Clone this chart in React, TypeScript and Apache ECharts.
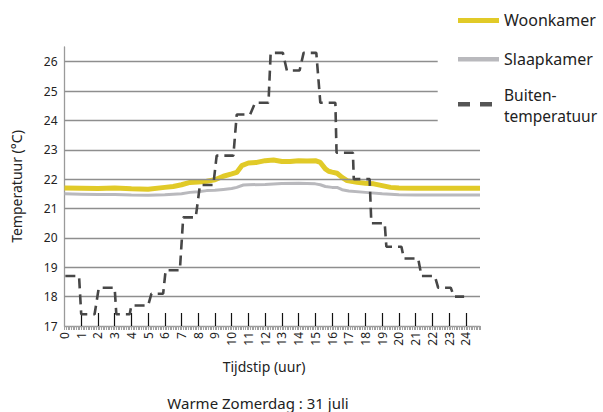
import React, { useEffect, useRef } from "react";
import * as echarts from "echarts";

// Buitentemperatuur: plateau per uur (start, eind, waarde)
const buitenValues = [18.7, 17.4, 18.3, 17.4, 17.7, 18.1, 18.9, 20.7, 21.8, 22.8, 24.2, 24.6, 26.3, 25.7, 26.3, 24.6, 22.9, 22.0, 20.5, 19.7, 19.3, 18.7, 18.3, 18.0];
const buitenStart = [0.05, 1.0, 2.05, 3.1, 4.0, 5.2, 6.05, 7.1, 8.1, 9.1, 10.3, 11.4, 12.33, 13.3, 14.3, 15.3, 16.27, 17.3, 18.35, 19.25, 20.3, 21.35, 22.35, 23.3];
const buitenEnd = [0.87, 1.8, 3.0, 3.9, 5.0, 5.9, 6.9, 7.85, 8.9, 10.1, 11.1, 12.2, 13.06, 14.06, 15.06, 16.2, 17.25, 18.25, 19.15, 20.15, 21.15, 22.15, 23.1, 23.9];

// Woonkamer
const woonT = [0, 1, 2, 3, 4, 5, 6, 6.5, 7, 7.5, 8, 8.5, 9, 9.5, 10, 10.3, 10.6, 11, 11.5, 12, 12.5, 13, 13.5, 14, 14.5, 15, 15.3, 15.6, 15.8, 16, 16.3, 16.6, 16.9, 17.5, 18, 18.5, 19, 19.5, 20, 21, 22, 23, 24, 24.85];
const woonV = [21.7, 21.69, 21.68, 21.7, 21.67, 21.66, 21.72, 21.75, 21.81, 21.89, 21.9, 21.93, 21.98, 22.1, 22.18, 22.23, 22.46, 22.55, 22.57, 22.63, 22.65, 22.6, 22.6, 22.63, 22.62, 22.63, 22.57, 22.35, 22.27, 22.24, 22.2, 22.06, 21.95, 21.89, 21.86, 21.84, 21.78, 21.72, 21.7, 21.69, 21.69, 21.69, 21.69, 21.69];

// Slaapkamer
const slaapT = [0, 1, 2, 3, 4, 5, 6, 7, 7.5, 8, 8.5, 9, 9.5, 10, 10.3, 10.7, 11, 12, 13, 14, 15, 15.3, 15.6, 16, 16.3, 16.6, 17, 18, 19, 20, 21, 22, 23, 24, 24.85];
const slaapV = [21.5, 21.49, 21.48, 21.48, 21.46, 21.45, 21.47, 21.5, 21.55, 21.57, 21.61, 21.62, 21.65, 21.68, 21.72, 21.8, 21.81, 21.82, 21.85, 21.86, 21.84, 21.81, 21.75, 21.72, 21.72, 21.64, 21.6, 21.55, 21.5, 21.47, 21.46, 21.46, 21.46, 21.46, 21.46];

const hourLabels = Array.from({ length: 25 }, (_, i) => i);
const hourTicks = hourLabels.slice(1);
const yTicks = [17, 18, 19, 20, 21, 22, 23, 24, 25, 26];
const gridFull = [18, 19, 20, 21, 22, 23];
const gridShort = [24, 25, 26];

const X_MAX = 24.85;
const X_SHORT = 22.32;
const FONT = "Noto Sans";

export default function App() {
  const ref = useRef<HTMLDivElement>(null);
  useEffect(() => {
    if (!ref.current) return;
    const chart = echarts.init(ref.current, undefined, { renderer: "svg" });

    const buitenData: number[][] = [];
    buitenValues.forEach((v, i) => {
      buitenData.push([buitenStart[i], v]);
      buitenData.push([buitenEnd[i], v]);
    });
    const woonData = woonT.map((t, i) => [t, woonV[i]]);
    const slaapData = slaapT.map((t, i) => [t, slaapV[i]]);

    const gridLines = [
      ...gridFull.map((v) => [{ coord: [0, v] }, { coord: [X_MAX, v] }]),
      ...gridShort.map((v) => [{ coord: [0, v] }, { coord: [X_SHORT, v] }]),
    ];

    const legendText = (text: string, y: number, size = 16) => ({
      type: "text",
      x: 504,
      y,
      style: { text, fontSize: size, fill: "#222", fontFamily: FONT, align: "left", verticalAlign: "middle" },
    });

    const option: any = {
      animation: false,
      textStyle: { fontFamily: FONT },
      grid: { left: 64.5, right: 123, top: 47, bottom: 86, containLabel: false },
      xAxis: [
        {
          type: "value",
          min: 0,
          max: X_MAX,
          interval: 1,
          axisLine: { show: true, lineStyle: { color: "#9a9a9a", width: 1.3 } },
          axisTick: {
            show: true,
            inside: true,
            length: 13,
            customValues: hourTicks,
            lineStyle: { color: "#111", width: 1.2 },
          },
          axisLabel: {
            rotate: 90,
            customValues: hourLabels,
            fontSize: 12,
            color: "#222",
            margin: 6,
            fontFamily: FONT,
          },
          splitLine: { show: false },
        },
        {
          type: "value",
          min: 0,
          max: X_MAX,
          interval: 0.1,
          position: "bottom",
          axisLine: { show: false },
          axisTick: { show: true, length: 4, lineStyle: { color: "#a0a0a0", width: 1 } },
          axisLabel: { show: false },
          splitLine: { show: false },
        },
      ],
      yAxis: {
        type: "value",
        min: 17,
        max: 26.5,
        interval: 1,
        name: "Temperatuur (°C)",
        nameLocation: "middle",
        nameRotate: 90,
        nameGap: 41,
        nameTextStyle: { fontSize: 14, color: "#222", fontFamily: FONT },
        axisLine: { show: true, lineStyle: { color: "#9a9a9a", width: 1.3 } },
        axisTick: { show: false },
        axisLabel: { customValues: yTicks, fontSize: 12, color: "#222", margin: 7, fontFamily: FONT },
        splitLine: { show: false },
      },
      series: [
        {
          name: "grid",
          type: "line",
          data: [],
          silent: true,
          z: 1,
          markLine: {
            silent: true,
            symbol: ["none", "none"],
            label: { show: false },
            lineStyle: { color: "#8e8e8e", width: 1.3, type: "solid" },
            emphasis: { disabled: true },
            data: gridLines,
          },
        },
        {
          name: "Slaapkamer",
          type: "line",
          data: slaapData,
          showSymbol: false,
          symbol: "none",
          z: 3,
          lineStyle: { color: "#b9b9bd", width: 3 },
        },
        {
          name: "Woonkamer",
          type: "line",
          data: woonData,
          showSymbol: false,
          symbol: "none",
          z: 4,
          lineStyle: { color: "#e1ca28", width: 5 },
        },
        {
          name: "Buitentemperatuur",
          type: "line",
          data: buitenData,
          showSymbol: false,
          symbol: "none",
          z: 5,
          lineStyle: { color: "#474747", width: 2.6, type: [10, 6] },
        },
      ],
      graphic: [
        { type: "rect", left: 458, top: 18, shape: { width: 41, height: 5 }, style: { fill: "#e1ca28" } },
        legendText("Woonkamer", 20),
        { type: "rect", left: 458, top: 57, shape: { width: 41, height: 4.5 }, style: { fill: "#b9b9bd" } },
        legendText("Slaapkamer", 59),
        { type: "rect", left: 458, top: 102, shape: { width: 12, height: 4.5 }, style: { fill: "#555" } },
        { type: "rect", left: 480, top: 102, shape: { width: 12, height: 4.5 }, style: { fill: "#555" } },
        legendText("Buiten-", 95, 15.5),
        legendText("temperatuur", 116, 15.5),
        {
          type: "text",
          x: 264,
          y: 366,
          style: { text: "Tijdstip (uur)", fontSize: 14, fill: "#222", fontFamily: FONT, align: "center", verticalAlign: "middle" },
        },
        {
          type: "text",
          x: 258,
          y: 403,
          style: { text: "Warme Zomerdag : 31 juli", fontSize: 15, fill: "#222", fontFamily: FONT, align: "center", verticalAlign: "middle" },
        },
      ],
    };
    chart.setOption(option);
    return () => chart.dispose();
  }, []);
  return <div ref={ref} style={{ position: "absolute", left: 0, top: 0, width: 603, height: 412 }} />;
}
